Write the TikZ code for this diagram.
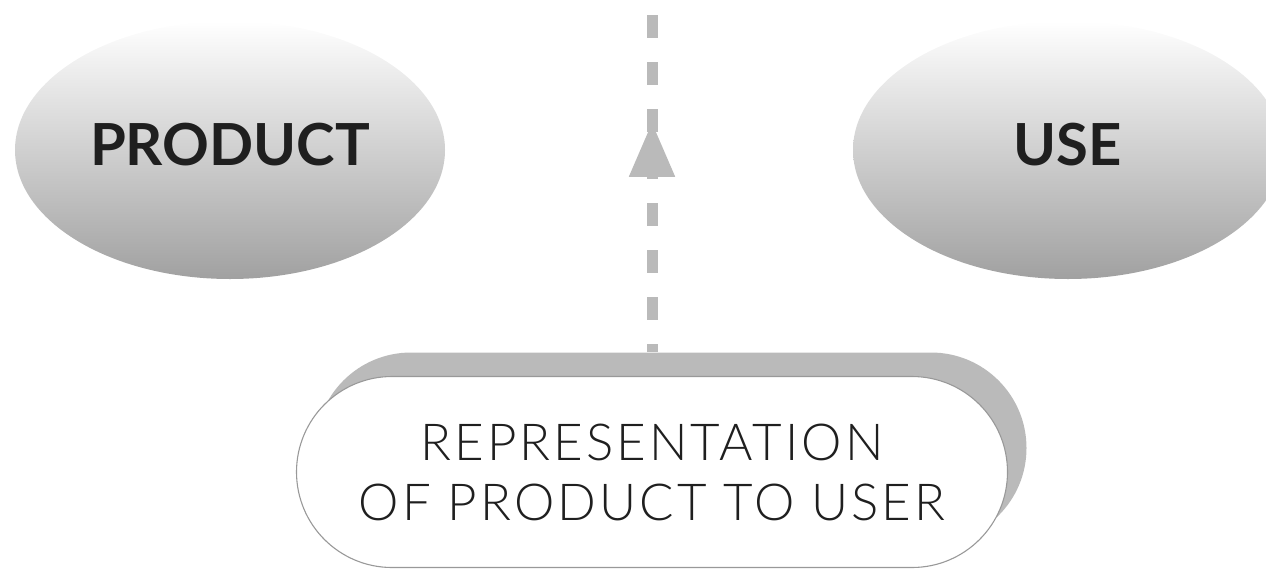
\documentclass[tikz,border=0pt]{standalone}
\usepackage{fontspec}
\setmainfont{Lato}
\newfontfamily\thinfont{Lato Light}[LetterSpace=6]
\usetikzlibrary{arrows.meta,positioning,shapes.geometric,shapes.misc,shadows,decorations.markings}

\begin{document}
\begin{tikzpicture}
%   [scale=1,every node/.style={fill=black!10}]
[x=1pt,y=-1pt,
  main node/.style={ellipse,minimum width=430pt,minimum height=258pt,inner sep=0pt,
    top color=white,bottom color=black!37,text=black!88,text depth=12pt,
    font=\bfseries\fontsize{58}{60}\selectfont},
  rep node/.style={rounded rectangle,minimum width=711pt,minimum height=191pt,inner sep=0pt,
    draw=black!40,line width=1.1pt,fill=white,align=center,text=black!88,
    font=\thinfont\fontsize{51}{60}\selectfont,
    drop shadow={shadow xshift=19pt,shadow yshift=24pt,fill=black!27,opacity=1}},
  flow/.style={draw=black!27,line width=11pt,dash pattern=on 23pt off 24pt,dash phase=15pt,
    postaction={decorate,decoration={markings,mark=at position 0.654 with
      {\arrow[black!27]{Triangle[width=43pt,length=55pt]}}}}}]

  \useasboundingbox (0,0) rectangle (1266,571);
  \clip (0,0) rectangle (1266,571);

  \node [main node] (product) at 		(230,150) 	{PRODUCT};
  \node [main node] (use) at 			(1068,150) 	{USE};
  \node [rep node] (rep) at 			(652,472) 	{REPRESENTATION\\OF PRODUCT TO USER};
  \coordinate (foot) at 			([yshift=24pt]rep.north);
  \coordinate (top) at 				(652,0);

  \foreach \from/\to in {foot/top}
    \draw [flow] (\from) -- (\to);

\end{tikzpicture}
\end{document}
